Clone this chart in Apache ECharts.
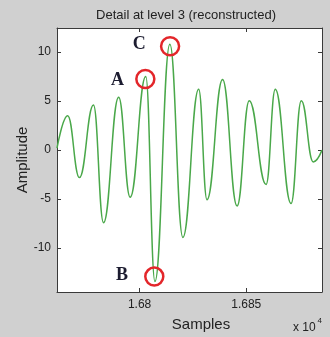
<!DOCTYPE html>
<html>
<head>
<meta charset="utf-8">
<script src="https://cdn.jsdelivr.net/npm/echarts@6/dist/echarts.min.js"></script>
<style>
html,body{margin:0;padding:0;background:#d0d0d0;}
#c{width:330px;height:337px;}
</style>
</head>
<body>
<div id="c"></div>
<script>
// Samples (x) and amplitudes (y) at the turning points of the reconstructed detail signal
const samples = [16761.3, 16766.3, 16771.8, 16778.4, 16783.1, 16790.2, 16795.6, 16802.9, 16807.2, 16814.2, 16820.3,
                 16827.7, 16831.6, 16838.9, 16845.7, 16851.4, 16859.3, 16863.6, 16871.0, 16875.8, 16881.4, 16885.5];
const amplitude = [0.2, 3.5, -2.8, 4.6, -7.4, 5.4, -4.8, 7.5, -13.4, 10.8, -8.9,
                   6.2, -5.05, 7.2, -5.7, 5.05, -3.5, 6.2, -5.45, 5.05, -1.2, 0.0];
const xTicks = [16800, 16850];
const yTicks = [-10, -5, 0, 5, 10];
const markNames = ['A', 'B', 'C'];
const markX = [16802.7, 16806.9, 16814.3];
const markY = [7.25, -12.9, 10.6];
const title = 'Detail at level 3 (reconstructed)';

const xMin = 16761.3, xMax = 16885.5, yMin = -14.47, yMax = 12.46;
const axisCol = '#3a3a3a';
const font = 'Liberation Sans, Arial, sans-serif';

const lineData = samples.map((s, i) => [s, amplitude[i]]);
const labelOffsets = {A: [0, 1], B: [0, -1], C: [0, -2]};
const labelDist = {A: 11, B: 16, C: 14};

const chart = echarts.init(document.getElementById('c'));
chart.setOption({
  backgroundColor: '#d0d0d0',
  animation: false,
  grid: {left: 57, top: 28, width: 265, height: 267, show: true, backgroundColor: '#ffffff', borderWidth: 0},
  xAxis: [{
    type: 'value', min: xMin, max: xMax, position: 'bottom',
    axisLine: {show: true, onZero: false, lineStyle: {color: axisCol, width: 1}},
    axisTick: {show: true, inside: true, length: 4, customValues: xTicks, lineStyle: {color: axisCol}},
    axisLabel: {show: true, customValues: xTicks, formatter: v => String(+(v / 10000).toFixed(4)), color: '#222', fontSize: 12, fontFamily: font, margin: 7},
    splitLine: {show: false},
    name: 'Samples', nameLocation: 'middle', nameGap: 25, nameMoveOverlap: false,
    nameTextStyle: {fontSize: 15, fontFamily: font, color: '#222', padding: [0, 0, 0, 23]}
  }, {
    type: 'value', min: xMin, max: xMax, position: 'top',
    axisLine: {show: true, onZero: false, lineStyle: {color: axisCol, width: 1}},
    axisTick: {show: true, inside: true, length: 4, customValues: xTicks, lineStyle: {color: axisCol}},
    axisLabel: {show: false}, splitLine: {show: false}
  }],
  yAxis: [{
    type: 'value', min: yMin, max: yMax, position: 'left',
    axisLine: {show: true, onZero: false, lineStyle: {color: axisCol, width: 1}},
    axisTick: {show: true, inside: true, length: 4, customValues: yTicks, lineStyle: {color: axisCol}},
    axisLabel: {show: true, customValues: yTicks, color: '#222', fontSize: 12, fontFamily: font, margin: 6},
    splitLine: {show: false},
    name: 'Amplitude', nameLocation: 'middle', nameGap: 27, nameMoveOverlap: false,
    nameTextStyle: {fontSize: 15, fontFamily: font, color: '#222'}
  }, {
    type: 'value', min: yMin, max: yMax, position: 'right',
    axisLine: {show: true, onZero: false, lineStyle: {color: axisCol, width: 1}},
    axisTick: {show: true, inside: true, length: 4, customValues: yTicks, lineStyle: {color: axisCol}},
    axisLabel: {show: false}, splitLine: {show: false}
  }],
  graphic: [
    {type: 'text', x: 186, y: 15, style: {text: title, font: '13px ' + font, fill: '#222', align: 'center', verticalAlign: 'middle'}},
    {type: 'text', x: 293, y: 328, style: {text: 'x 10', font: '12px ' + font, fill: '#222', align: 'left', verticalAlign: 'middle'}},
    {type: 'text', x: 317.5, y: 321, style: {text: '4', font: '8px ' + font, fill: '#222', align: 'left', verticalAlign: 'middle'}}
  ],
  series: [{
    type: 'line', xAxisIndex: 0, yAxisIndex: 0,
    data: lineData, showSymbol: false, smooth: 0.45, smoothMonotone: 'x',
    lineStyle: {color: '#4aa84a', width: 1.5}, itemStyle: {color: '#4aa84a'},
    z: 3,
    markPoint: {
      symbol: 'circle', symbolSize: 18,
      itemStyle: {color: 'rgba(0,0,0,0)', borderColor: '#e3262a', borderWidth: 2.5},
      data: markNames.map((n, i) => ({
        name: n, coord: [markX[i], markY[i]],
        label: {show: true, formatter: n, position: 'left', distance: labelDist[n], offset: labelOffsets[n],
                fontFamily: 'Liberation Serif, Times New Roman, serif', fontWeight: 'bold', fontSize: 18, color: '#1c1c30'}
      }))
    }
  }]
});
</script>
</body>
</html>
